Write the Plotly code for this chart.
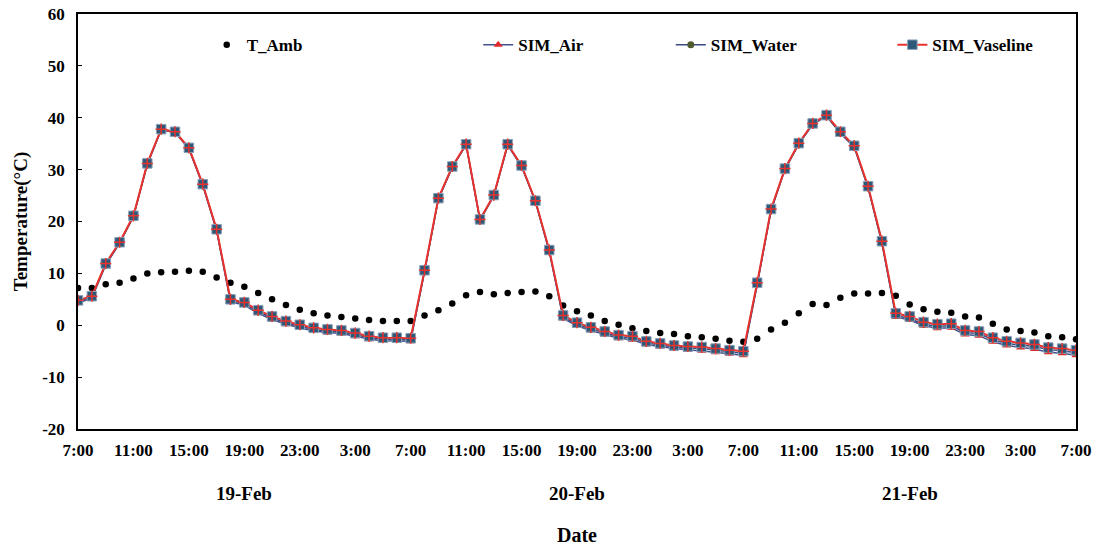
import plotly.graph_objects as go

# ---------------- data ----------------
hours = list(range(73))  # hourly from 7:00 19-Feb to 7:00 22-Feb

t_amb = [7.2, 7.2, 7.9, 8.2, 9.0, 10.0, 10.2, 10.3, 10.5, 10.3, 9.2, 8.2, 7.4, 6.2, 5.0, 3.9, 3.0, 2.3, 1.9, 1.6,
         1.3, 1.0, 0.8, 0.8, 0.8, 1.9, 2.9, 4.2, 5.8, 6.4, 6.0, 6.2, 6.4, 6.5, 5.6, 3.8, 2.7, 1.9, 0.8, 0.1,
         -0.6, -1.1, -1.5, -1.7, -2.1, -2.3, -2.6, -3.0, -3.2, -2.6, -0.8, 0.5, 2.3, 4.1, 3.9, 5.3, 6.1, 6.1, 6.2, 5.7,
         4.0, 3.1, 2.6, 2.4, 1.7, 1.5, 0.3, -0.8, -1.1, -1.4, -2.1, -2.3, -2.7]

sim_air = [4.3, 5.2, 11.6, 15.8, 20.9, 31.0, 37.7, 37.2, 34.0, 27.0, 18.2, 4.5, 3.9, 2.3, 1.1, 0.2, -0.5, -1.1, -1.4, -1.6,
           -2.1, -2.7, -3.0, -3.0, -3.1, 10.3, 24.3, 30.4, 34.8, 20.2, 24.9, 34.7, 30.6, 23.8, 14.2, 1.3, -0.1, -1.0, -1.8, -2.5,
           -2.8, -3.7, -4.1, -4.5, -4.7, -4.9, -5.2, -5.5, -5.8, 7.8, 22.1, 30.0, 34.9, 38.7, 40.3, 37.0, 34.3, 26.5, 15.8, 1.6,
           1.0, -0.1, -0.6, -0.5, -1.8, -2.0, -3.2, -3.9, -4.3, -4.6, -5.2, -5.4, -5.8]

sim_water = [4.6, 5.4, 11.8, 15.9, 21.0, 31.1, 37.7, 37.2, 34.1, 27.1, 18.4, 4.8, 4.2, 2.6, 1.4, 0.5, -0.2, -0.8, -1.1, -1.3,
             -1.8, -2.4, -2.7, -2.7, -2.8, 10.4, 24.4, 30.5, 34.8, 20.3, 25.0, 34.8, 30.7, 23.9, 14.3, 1.6, 0.2, -0.7, -1.5, -2.2,
             -2.4, -3.4, -3.8, -4.2, -4.4, -4.5, -4.8, -5.1, -5.4, 8.0, 22.2, 30.1, 35.0, 38.8, 40.4, 37.1, 34.4, 26.6, 16.0, 1.9,
             1.3, 0.2, -0.2, -0.1, -1.4, -1.6, -2.8, -3.5, -3.8, -4.1, -4.7, -4.9, -5.3]

sim_vaseline = [4.8, 5.6, 11.9, 16.0, 21.1, 31.2, 37.8, 37.3, 34.2, 27.2, 18.5, 5.0, 4.4, 2.9, 1.7, 0.8, 0.1, -0.5, -0.8, -1.0,
                -1.5, -2.1, -2.4, -2.4, -2.5, 10.6, 24.5, 30.6, 34.9, 20.4, 25.1, 34.9, 30.8, 24.0, 14.5, 1.9, 0.5, -0.4, -1.2, -1.9,
                -2.1, -3.1, -3.5, -3.9, -4.1, -4.2, -4.5, -4.8, -5.0, 8.2, 22.4, 30.2, 35.1, 38.9, 40.5, 37.3, 34.6, 26.8, 16.2, 2.3,
                1.7, 0.6, 0.2, 0.3, -1.0, -1.2, -2.4, -3.1, -3.4, -3.7, -4.3, -4.5, -4.8]

tick_hours = list(range(0, 73, 4))
tick_labels = ["7:00", "11:00", "15:00", "19:00", "23:00", "3:00"] * 3 + ["7:00"]
day_labels = ["19-Feb", "20-Feb", "21-Feb"]
day_label_hours = [12, 36, 60]

for s in (t_amb, sim_air, sim_water, sim_vaseline):
    assert len(s) == len(hours)

FONT = "Liberation Serif"

fig = go.Figure()

fig.add_trace(go.Scatter(
    x=hours, y=t_amb, mode="markers", name="<b>T_Amb</b>",
    marker=dict(symbol="circle", size=6.5, color="black"),
    legend="legend"))

fig.add_trace(go.Scatter(
    x=hours, y=sim_air, mode="lines+markers", name="<b>SIM_Air</b>",
    line=dict(color="#44508A", width=1.5),
    marker=dict(symbol="triangle-up", size=8, color="#E02A2A", line=dict(width=0)),
    legend="legend2"))

fig.add_trace(go.Scatter(
    x=hours, y=sim_water, mode="lines+markers", name="<b>SIM_Water</b>",
    line=dict(color="#3C4A80", width=1.5),
    marker=dict(symbol="circle", size=7, color="#4F5A2E", line=dict(width=0)),
    legend="legend3"))

fig.add_trace(go.Scatter(
    x=hours, y=sim_vaseline, mode="lines+markers", name="<b>SIM_Vaseline</b>",
    line=dict(color="#E8322E", width=2),
    marker=dict(symbol="square", size=9.5, color="#2E5878", line=dict(color="#8AA0B8", width=1)),
    legend="legend4"))

fig.add_trace(go.Scatter(
    x=hours, y=sim_vaseline, mode="markers", showlegend=False, hoverinfo="skip",
    marker=dict(symbol="cross-thin", size=8, line=dict(color="#E8322E", width=1.5))))

ann = [dict(x=h, y=-0.155, xref="x", yref="paper", yanchor="middle", text=f"<b>{d}</b>", showarrow=False,
            font=dict(family=FONT, size=19, color="black"))
       for h, d in zip(day_label_hours, day_labels)]

leg_common = dict(orientation="h", yanchor="middle", xanchor="left", bgcolor="rgba(0,0,0,0)",
                  font=dict(family=FONT, size=17, color="black"))

fig.update_layout(
    width=1097, height=548,
    margin=dict(l=78, r=21, t=14, b=119),
    paper_bgcolor="white", plot_bgcolor="white",
    font=dict(family=FONT, size=16, color="black"),
    showlegend=True,
    legend=dict(x=0.129, y=0.925, **leg_common),
    legend2=dict(x=0.401, y=0.925, **leg_common),
    legend3=dict(x=0.594, y=0.925, **leg_common),
    legend4=dict(x=0.816, y=0.925, **leg_common),
    annotations=ann + [dict(x=0.5, y=-0.255, xref="paper", yref="paper", yanchor="middle", text="<b>Date</b>",
                            showarrow=False, font=dict(family=FONT, size=20, color="black"))],
    xaxis=dict(range=[0, 72], tickvals=tick_hours, ticktext=[f"<b>{t}</b>" for t in tick_labels],
               showgrid=False, zeroline=False, showline=True, linecolor="black", linewidth=1.5,
               mirror=True, ticks="", automargin=False, ticklabelstandoff=5,
               tickfont=dict(family=FONT, size=17, color="black")),
    yaxis=dict(range=[-20, 60], tickvals=list(range(-20, 61, 10)),
               ticktext=[f"<b>{v}</b>" for v in range(-20, 61, 10)],
               showgrid=False, zeroline=False, showline=True, linecolor="black", linewidth=1.5,
               mirror=True, ticks="inside", ticklen=4, tickcolor="black", automargin=False,
               ticklabelstandoff=8,
               tickfont=dict(family=FONT, size=17, color="black"),
               title=dict(text="<b>Temperature(°C)</b>", font=dict(family=FONT, size=19, color="black"),
                          standoff=10)),
)

fig.write_html("out.html", config={"displayModeBar": False},
               post_script="document.documentElement.style.margin='0';document.body.style.margin='0';"
                           "document.body.style.overflow='hidden';")
